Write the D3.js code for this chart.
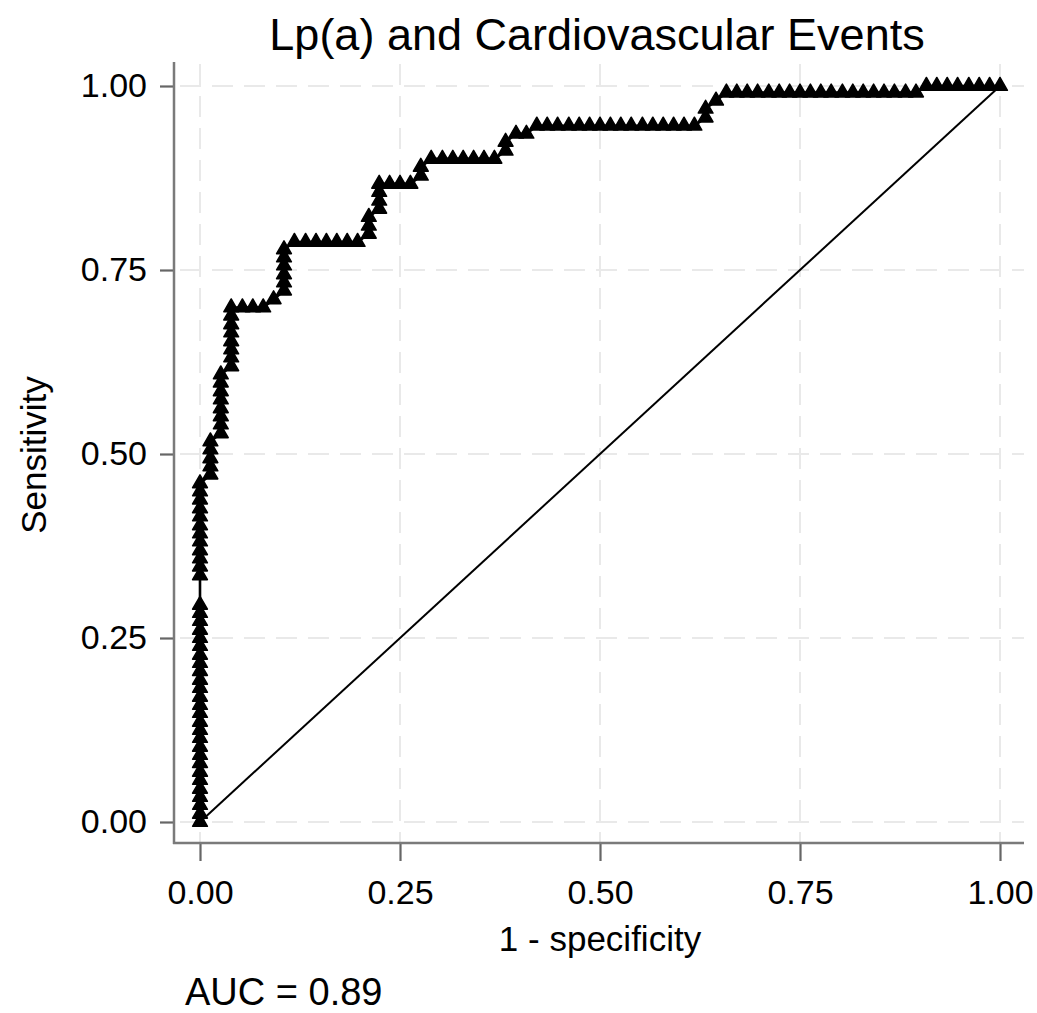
<!DOCTYPE html>
<html><head><meta charset="utf-8">
<script src="https://cdn.jsdelivr.net/npm/d3@7"></script>
<style>
body{margin:0;background:#fff}
svg{display:block}
text{font-family:"Liberation Sans",Arial,sans-serif;fill:#000}
</style>
</head><body>
<svg id="c" width="1037" height="1013"></svg>
<script>
const titleText = "Lp(a) and Cardiovascular Events";
const xLabel = "1 - specificity";
const yLabel = "Sensitivity";
const aucLabel = "AUC = 0.89";
const xTicks = [0, 0.25, 0.5, 0.75, 1];
const yTicks = [0, 0.25, 0.5, 0.75, 1];
const refLine = [0, 1];

const rocFpr = [
  0,0,0,0,0,0,0,0,0,0,0,0,0,0,0,0,0,0,0,0,0,0,0,0,0,0,0,
  0,0,0,0,0,0,0,0,0,0,0,0,
  .013,.013,.013,.013,.013,
  .026,.026,.026,.026,.026,.026,.026,.026,
  .039,.039,.039,.039,.039,.039,.039,.039,
  .053,.066,.079,
  .092,
  .105,.105,.105,.105,.105,.105,
  .118,.132,.145,.158,.171,.184,.197,
  .211,.211,.211,
  .224,.224,.224,.224,
  .237,.250,.263,
  .276,.276,
  .289,.303,.316,.329,.342,.355,.368,
  .382,.382,
  .395,.408,
  .421,.434,.447,.461,.474,.487,.500,.513,.526,.539,.553,.566,.579,.592,.605,.618,
  .632,.632,
  .645,
  .658,.671,.684,.697,.711,.724,.737,.750,.763,.776,.789,.803,.816,.829,.842,.855,.868,.882,.895,
  .908,.921,.934,.947,.961,.974,.987,1
];
const rocTpr = [
  0,.011,.023,.034,.045,.057,.068,.080,.091,.102,.114,.125,.136,.148,.159,.170,.182,.193,.205,.216,.227,.239,.250,.261,.273,.284,.295,
  .335,.347,.358,.369,.381,.392,.403,.415,.426,.438,.449,.460,
  .472,.483,.494,.506,.517,
  .528,.540,.551,.562,.574,.585,.597,.608,
  .619,.631,.642,.653,.665,.676,.688,.699,
  .699,.699,.699,
  .710,
  .722,.733,.744,.756,.767,.778,
  .788,.788,.788,.788,.788,.788,.788,
  .799,.810,.822,
  .833,.844,.856,.867,
  .867,.867,.867,
  .878,.890,
  .901,.901,.901,.901,.901,.901,.901,
  .912,.924,
  .935,.935,
  .946,.946,.946,.946,.946,.946,.946,.946,.946,.946,.946,.946,.946,.946,.946,.946,
  .957,.969,
  .980,
  .991,.991,.991,.991,.991,.991,.991,.991,.991,.991,.991,.991,.991,.991,.991,.991,.991,.991,.991,
  1,1,1,1,1,1,1,1
];

const rocData = rocFpr.map((f, i) => ({fpr: f, tpr: rocTpr[i]}));

const svg = d3.select("#c");
const x = d3.scaleLinear().domain([0, 1]).range([200, 1000]);
const y = d3.scaleLinear().domain([0, 1]).range([822, 86]);
const box = {l: 174, r: 1024, t: 62, b: 843};

// grid
const grid = svg.append("g").attr("stroke", "#e9e9e9").attr("stroke-width", 2).attr("stroke-dasharray", "21,11");
grid.selectAll(".gy").data(yTicks).join("line")
  .attr("x1", box.l + 6).attr("x2", box.r).attr("y1", d => y(d)).attr("y2", d => y(d));
grid.selectAll(".gx").data(xTicks).join("line")
  .attr("y1", box.t + 2).attr("y2", box.b).attr("x1", d => x(d)).attr("x2", d => x(d));

// reference diagonal
svg.append("line")
  .attr("x1", x(refLine[0])).attr("y1", y(refLine[0]))
  .attr("x2", x(refLine[1])).attr("y2", y(refLine[1]))
  .attr("stroke", "#000").attr("stroke-width", 2);

// ROC curve
svg.append("path").datum(rocData)
  .attr("fill", "none").attr("stroke", "#000").attr("stroke-width", 2.6)
  .attr("d", d3.line().x(d => x(d.fpr)).y(d => y(d.tpr)));

svg.append("g").selectAll("path").data(rocData).join("path")
  .attr("transform", d => `translate(${x(d.fpr)},${y(d.tpr)})`)
  .attr("d", d3.symbol(d3.symbolTriangle, 95))
  .attr("fill", "#000").attr("stroke", "#000").attr("stroke-width", 1.5)
  .attr("stroke-linejoin", "round");

// axes
const fmt = d3.format(".2f");
const yAxis = svg.append("g").attr("transform", `translate(${box.l},0)`)
  .call(d3.axisLeft(y).tickValues(yTicks).tickFormat(fmt).tickSize(14).tickPadding(13));
const xAxis = svg.append("g").attr("transform", `translate(0,${box.b})`)
  .call(d3.axisBottom(x).tickValues(xTicks).tickFormat(fmt).tickSize(18).tickPadding(19));
[yAxis, xAxis].forEach(g => {
  g.select(".domain").remove();
  g.selectAll(".tick line").attr("stroke", "#666").attr("stroke-width", 2.2);
  g.selectAll(".tick text").attr("font-size", 34).attr("fill", "#000")
    .attr("font-family", '"Liberation Sans",Arial,sans-serif');
});

svg.append("line").attr("x1", box.l).attr("x2", box.l).attr("y1", box.t).attr("y2", box.b + 1)
  .attr("stroke", "#7a7a7a").attr("stroke-width", 2.5);
svg.append("line").attr("x1", box.l - 1).attr("x2", box.r).attr("y1", box.b).attr("y2", box.b)
  .attr("stroke", "#7a7a7a").attr("stroke-width", 2.5);

// texts
svg.append("text").attr("x", 597).attr("y", 50).attr("text-anchor", "middle")
  .attr("font-size", 45).text(titleText);
svg.append("text").attr("x", 600).attr("y", 951).attr("text-anchor", "middle")
  .attr("font-size", 35).text(xLabel);
svg.append("text").attr("transform", "translate(46,455) rotate(-90)").attr("text-anchor", "middle")
  .attr("font-size", 35).text(yLabel);
svg.append("text").attr("x", 185).attr("y", 1005).attr("font-size", 38).text(aucLabel);
</script>
</body></html>
